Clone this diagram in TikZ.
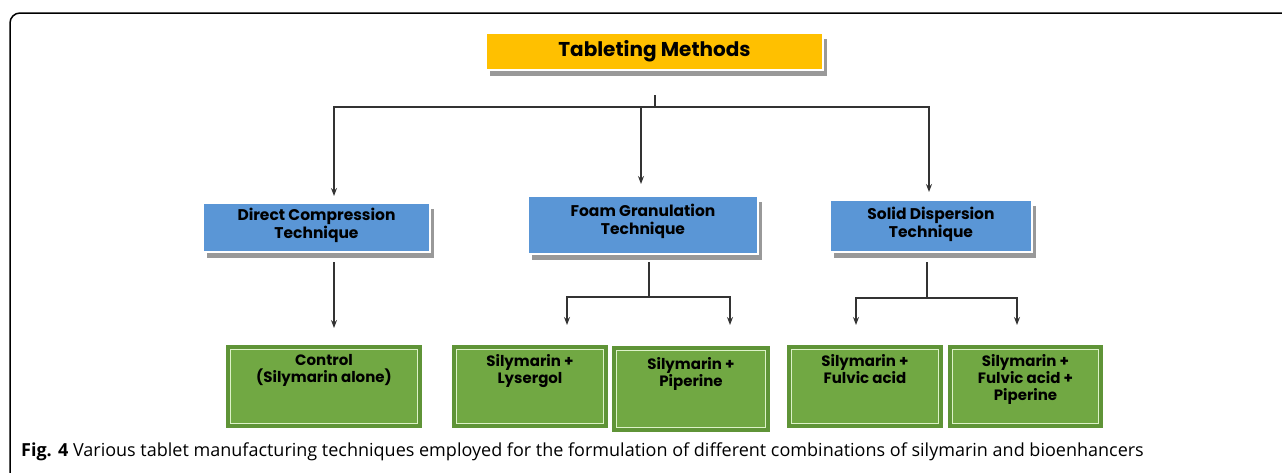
\documentclass[tikz,border=0pt]{standalone}
\usepackage{fontspec}
\setmainfont{Poppins}
\newfontfamily\capfont{Open Sans}
\usetikzlibrary{arrows.meta,shadows}
\definecolor{tabgold}{HTML}{FFC000}
\definecolor{techblue}{HTML}{5A96D6}
\definecolor{leafgreen}{HTML}{71A843}
\definecolor{leafdark}{HTML}{5F9437}
\definecolor{leaflight}{HTML}{DDF2C8}
\tikzset{
  link/.style={line width=1.2pt, draw=black!80},
  arrow/.style={link, -{Stealth[length=8pt,width=6pt]}},
  boxshadow/.style={drop shadow={shadow xshift=4pt, shadow yshift=-6pt, fill=black!40, opacity=1}},
  boxtext/.style={anchor=north, align=center, inner sep=0pt, font=\bfseries\fontsize{15}{17}\selectfont}
}
\begin{document}
\begin{tikzpicture}[x=1pt,y=-1pt,
  headbox/.style={fill=tabgold, draw=white, line width=1.2pt, boxshadow, minimum width=337pt, minimum height=37pt, font=\bfseries\fontsize{20}{22}\selectfont},
  methodbox/.style={fill=techblue, draw=white, line width=1.2pt, boxshadow},
  resultbox/.style={fill=leafgreen, draw=leaflight, line width=1.8pt, preaction={draw=leafdark, line width=9pt}}]
\useasboundingbox (0,0) rectangle (1282,472);
\draw[line width=1.5pt, rounded corners=10pt] (10,480) -- (10,13) -- (1290,13);
%
\node[headbox] (tab) at (654.5,51.5) {Tableting Methods};
%
\node[methodbox, minimum width=227pt, minimum height=49pt,
  label={[boxtext, yshift=-5pt, font=\bfseries\fontsize{15.5}{18}\selectfont]north:{Direct Compression\\Technique}}] (dc) at (316.5,227.5) {};
\node[methodbox, minimum width=230pt, minimum height=58pt,
  label={[boxtext, yshift=-8pt, font=\bfseries\fontsize{15.5}{18}\selectfont]north:{Foam Granulation\\Technique}}] (fg) at (643,225) {};
\node[methodbox, minimum width=202pt, minimum height=52pt,
  label={[boxtext, yshift=-7pt, font=\bfseries\fontsize{15.5}{18}\selectfont]north:{Solid Dispersion\\Technique}}] (sd) at (931,226) {};
%
\node[resultbox, minimum width=187pt, minimum height=74pt,
  label={[boxtext, yshift=-6pt]north:{Control\\(Silymarin alone)}}] (ctl) at (324,386.5) {};
\node[resultbox, minimum width=147pt, minimum height=74pt,
  label={[boxtext, yshift=-6pt]north:{Silymarin +\\Lysergol}}] (lys) at (530,386.5) {};
\node[resultbox, minimum width=149pt, minimum height=77pt,
  label={[boxtext, yshift=-8pt]north:{Silymarin +\\Piperine}}] (pip) at (691,389) {};
\node[resultbox, minimum width=147pt, minimum height=74pt,
  label={[boxtext, yshift=-6pt]north:{Silymarin +\\Fulvic acid}}] (ful) at (865,386.5) {};
\node[resultbox, minimum width=146pt, minimum height=74pt,
  label={[boxtext, yshift=-6pt]north:{Silymarin +\\Fulvic acid +\\Piperine}}] (fp) at (1025.5,386.5) {};
%
\coordinate (tabout) at (655,95);
\coordinate (bus) at (655,107);
\coordinate (dcin) at (334,196);
\coordinate (fgin) at (641,184);
\coordinate (sdin) at (929,192);
\draw[link] (tabout) -- (bus);
\draw[arrow] (bus) -| (dcin);
\draw[arrow] (bus) -| (sdin);
\draw[arrow] (bus -| fgin) -- (fgin);
%
\coordinate (dcout) at (334,262);
\coordinate (ctlin) at (334,328);
\draw[arrow] (dcout) -- (ctlin);
%
\coordinate (fgout) at (649,262);
\coordinate (fgbus) at (649,297);
\coordinate (lysin) at (567,325);
\coordinate (pipin) at (730,325);
\draw[link] (fgout) -- (fgbus);
\draw[arrow] (fgbus) -| (lysin);
\draw[arrow] (fgbus) -| (pipin);
%
\coordinate (sdout) at (927,262);
\coordinate (sdbus) at (927,298);
\coordinate (fulin) at (856,325);
\coordinate (fpin) at (1017,325);
\draw[link] (sdout) -- (sdbus);
\draw[arrow] (sdbus) -| (fulin);
\draw[arrow] (sdbus) -| (fpin);
%
\node[anchor=west, inner sep=0pt, font=\capfont\fontsize{18}{20}\selectfont] (cap) at (21,452)
  {\textbf{Fig. 4} Various tablet manufacturing techniques employed for the formulation of different combinations of silymarin and bioenhancers};
\end{tikzpicture}
\end{document}
